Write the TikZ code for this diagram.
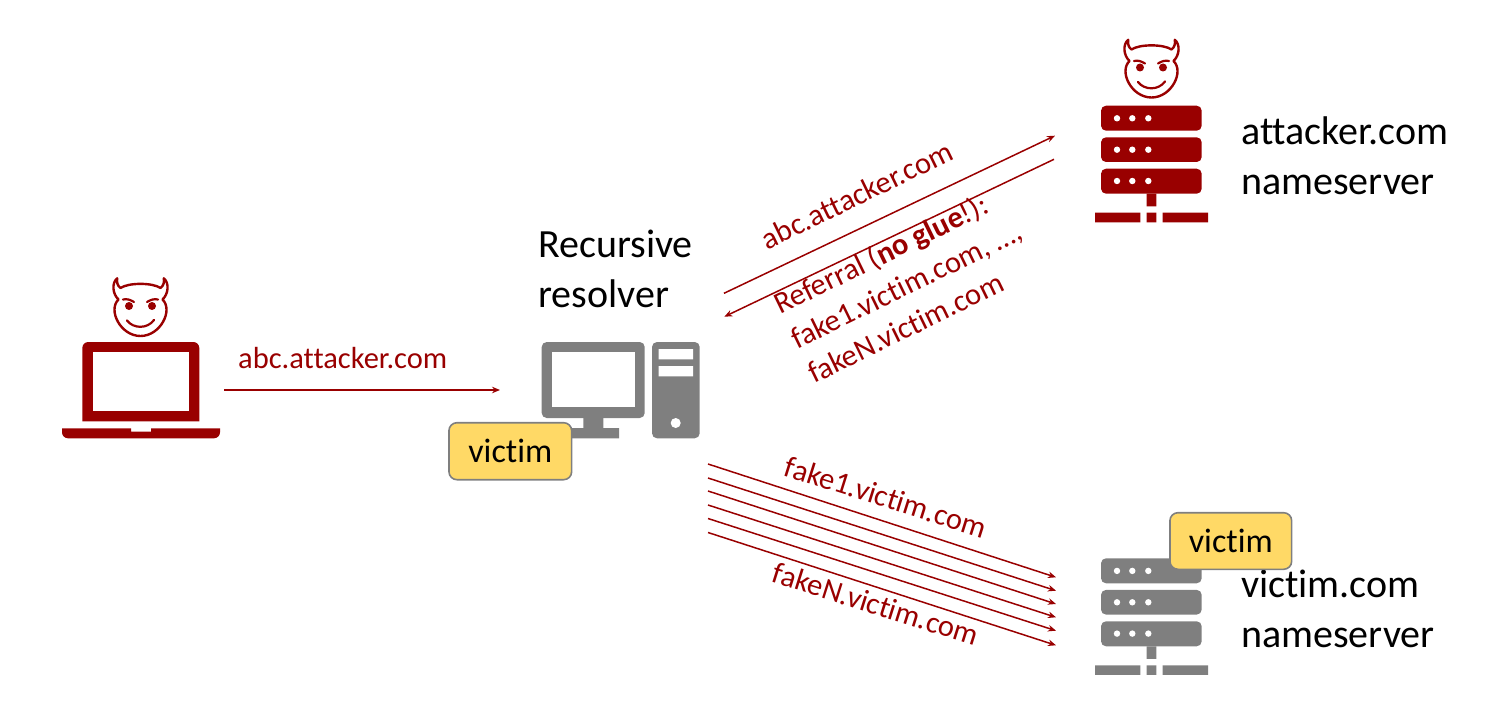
\documentclass[tikz,border=0pt]{standalone}
\usepackage{fontspec}
\setmainfont[Ligatures={NoCommon}]{Carlito}
\usetikzlibrary{arrows.meta}
\definecolor{darkred}{HTML}{990000}
\definecolor{icongray}{HTML}{7F7F7F}
\definecolor{tagfill}{HTML}{FFD966}
\tikzset{
  x=1pt,y=-1pt,
  flow/.style={draw=darkred,line width=1.5pt,-{Stealth[length=8pt,width=6.5pt]}},
  blacktext/.style={font=\fontsize{40}{50}\selectfont,text=black,anchor=base west,align=left,inner sep=0pt},
  redtext/.style={font=\fontsize{30.5}{38.5}\selectfont,text=darkred,inner sep=0pt},
  tagbox/.style={draw=icongray,fill=tagfill,line width=1.6pt,rounded corners=8pt,font=\fontsize{34}{36}\selectfont,text=black,inner sep=0pt},
  devil/.pic={
    \draw[darkred,line width=2.4pt,line join=round,line cap=round]
      (-20,-22) .. controls (-12,-27.5) and (12,-27.5) .. (20,-22)
      .. controls (23,-24) and (24,-28) .. (23.3,-31.7)
      .. controls (29,-27) and (28,-16) .. (22,-10.5)
      .. controls (33,0) and (20,26) .. (0,26)
      .. controls (-20,26) and (-33,0) .. (-22,-10.5)
      .. controls (-28,-16) and (-29,-27) .. (-23.3,-31.7)
      .. controls (-24,-28) and (-23,-24) .. (-20,-22) -- cycle;
    \fill[darkred] (-11.5,-4) circle (4) (11.5,-4) circle (4);
    \draw[darkred,line width=2.2pt,line cap=round]
      (-17.5,-10.5) .. controls (-13,-11.5) and (-10,-10) .. (-6.5,-8)
      (17.5,-10.5) .. controls (13,-11.5) and (10,-10) .. (6.5,-8)
      (-13.5,10.5) .. controls (-7,19) and (7,19) .. (13.5,10);
  },
  serverrack/.pic={
    \fill[pic actions,rounded corners=5pt] (0,0) rectangle (100.7,25) (0,31.6) rectangle (100.7,56.3) (0,63) rectangle (100.7,88);
    \fill[white] (16,12.6) circle (3.2) (31.3,12.6) circle (3.2) (47.3,12.6) circle (3.2)
                 (16,44) circle (3.2) (31.3,44) circle (3.2) (47.3,44) circle (3.2)
                 (16,75.3) circle (3.2) (31.3,75.3) circle (3.2) (47.3,75.3) circle (3.2);
    \fill[pic actions] (45.7,88) rectangle (55.3,100.6)
      (-6,107) rectangle (39.3,116.6)
      (45.7,107) rectangle (55.3,116.6)
      (61.7,107) rectangle (107,116.6);
  }
}
\begin{document}
\begin{tikzpicture}
\useasboundingbox (0,0) rectangle (1488,711);
% attacker laptop
\pic at (140.5,310) {devil};
\fill[darkred,rounded corners=6pt] (82.3,421.3) [sharp corners] -- (82.3,380) [rounded corners=6pt] -- (82.3,342) -- (199.3,342) -- (199.3,380) [sharp corners] -- (199.3,421.3) -- cycle;
\fill[white] (93,352.3) rectangle (189,410.7);
\fill[darkred] (62,428.3) -- (131,428.3) -- (131,431.7) -- (151,431.7) -- (151,428.3) -- (220,428.3) [rounded corners=6pt] -- (220,438.3) -- (62,438.3) [sharp corners] -- cycle;
% computer
\fill[icongray,rounded corners=5pt] (541.7,342) rectangle (644.7,418);
\fill[white] (551.7,352.3) rectangle (634.7,407.3);
\fill[icongray] (583.3,418) rectangle (603.3,428) (567,428) rectangle (619,438.3);
\fill[icongray,rounded corners=5pt] (652,342) rectangle (699.7,438.3);
\fill[white] (658.7,349) rectangle (693,359.3) (658.7,366) rectangle (693,376.3) (675.7,423) circle (5);
% attacker server
\pic at (1151.5,71.5) {devil};
\pic[fill=darkred] at (1101,105.7) {serverrack};
% victim server
\pic[fill=icongray] at (1101,558.3) {serverrack};
% black labels
\node[blacktext] (resolverlabel) at (538,307) {Recursive\\resolver};
\node[blacktext] (attackerlabel) at (1241,195) {attacker.com\\nameserver};
\node[blacktext] (victimlabel) at (1241,647) {victim.com\\nameserver};
% tags
\node[tagbox,minimum width=122.7pt,minimum height=57pt] (tagA) at (510.3,451.2) {victim};
\node[tagbox,minimum width=121.7pt,minimum height=56.6pt] (tagB) at (1230.8,541) {victim};
% coordinates
\coordinate (c1s) at (224,390); \coordinate (c1e) at (500,390);
\coordinate (c2s) at (724,293.3); \coordinate (c2e) at (1055,135.7);
\coordinate (c3s) at (1054,159.3); \coordinate (c3e) at (724.3,316.7);
\coordinate (a1) at (708,464); \coordinate (b1) at (1056,577.3);
\coordinate (a2) at (708,478); \coordinate (b2) at (1056,590.7);
\coordinate (a3) at (708,491); \coordinate (b3) at (1056,604);
\coordinate (a4) at (708,505); \coordinate (b4) at (1056,617.3);
\coordinate (a5) at (708,518.5); \coordinate (b5) at (1056,630.7);
\coordinate (a6) at (708,532.5); \coordinate (b6) at (1056,645.3);
\draw[flow] (c1s) -- (c1e);
\draw[flow] (c2s) -- (c2e);
\draw[flow] (c3s) -- (c3e);
\draw[flow] (a1) -- (b1);
\draw[flow] (a2) -- (b2);
\draw[flow] (a3) -- (b3);
\draw[flow] (a4) -- (b4);
\draw[flow] (a5) -- (b5);
\draw[flow] (a6) -- (b6);
% red labels
\node[redtext,anchor=base west] (m1) at (238,368) {abc.attacker.com};
\node[redtext,rotate=26] (m2) at (857,195) {abc.attacker.com};
\node[redtext,rotate=26,anchor=base west,align=left] (m3) at (814,384) {Referral (\textbf{no glue}!):\\fake1.victim.com, …,\\fakeN.victim.com};
\node[redtext,rotate=-17.5] (m4) at (886,497) {fake1.victim.com};
\node[redtext,rotate=-17.5] (m5) at (876,604) {fakeN.victim.com};
\end{tikzpicture}
\end{document}
